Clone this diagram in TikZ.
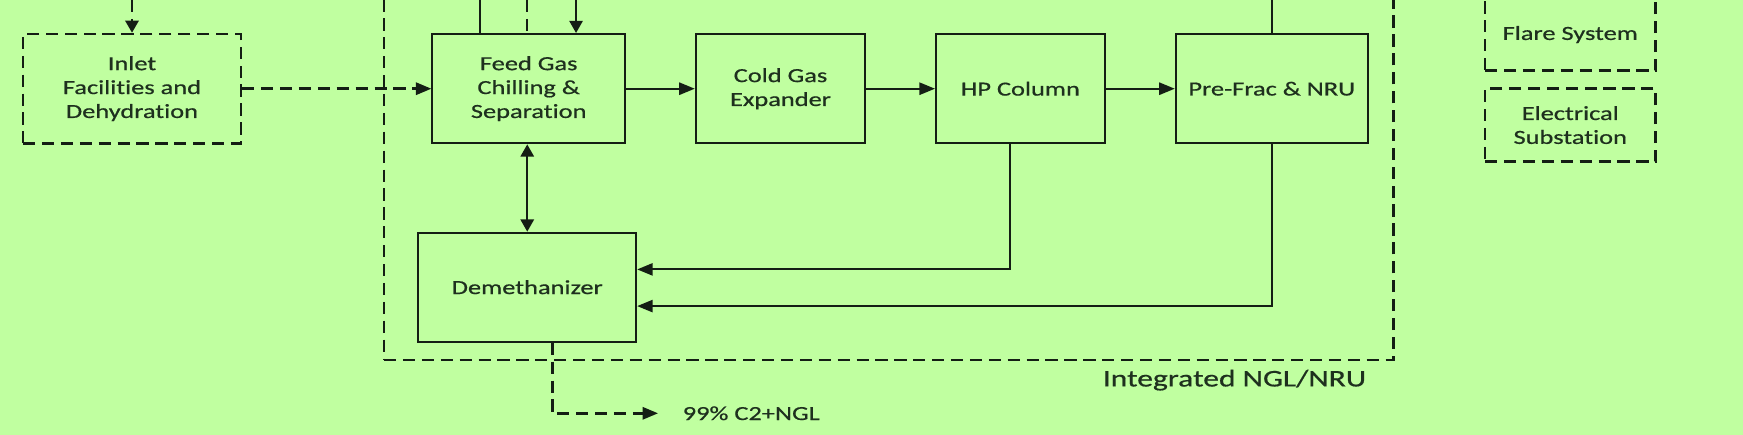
\documentclass[tikz,border=0pt]{standalone}
\usepackage{fontspec}
\setmainfont{Carlito}[FakeStretch=1.32,FakeBold=0.6,RawFeature=-liga]
\usetikzlibrary{arrows.meta}
\definecolor{bg}{RGB}{192,255,160}
\definecolor{ink}{RGB}{20,30,20}
\definecolor{txt}{RGB}{30,48,30}
\tikzset{
  blk/.style={draw=ink,line width=1.8pt,inner sep=0pt,align=center,text=txt,font=\fontsize{18}{21.5}\selectfont},
  dsh/.style={line width=2.3pt,dash pattern=on 11pt off 6pt},
  hd/.style={-{Triangle[length=14pt,width=11pt]}},
  vd/.style={-{Triangle[length=11pt,width=12pt]}},
  wire/.style={draw=ink,line width=1.8pt},
  lbl/.style={inner sep=0pt,text=txt},
}
\begin{document}
\begin{tikzpicture}[x=1pt,y=-1pt]
\fill[bg] (0,0) rectangle (1568,391);
\useasboundingbox (0,0) rectangle (1568,391);

\node[blk,dsh,minimum width=908pt,minimum height=325.2pt] (integ) at (799.5,161.3) {};
\node[blk,dsh,minimum width=196pt,minimum height=98.4pt] (inlet) at (118.75,79.8) {Inlet\\Facilities and\\Dehydration};
\node[blk,fill=bg,minimum width=173.2pt,minimum height=98.4pt] (feed) at (475.6,79.8) {Feed Gas\\Chilling \&\\Separation};
\node[blk,minimum width=152.5pt,minimum height=98.4pt] (cold) at (702.15,79.8) {Cold Gas\\Expander};
\node[blk,minimum width=151.9pt,minimum height=98.4pt] (hp) at (917.95,79.8) {HP Column};
\node[blk,minimum width=172.7pt,minimum height=98.4pt] (pre) at (1144.05,79.8) {Pre-Frac \& NRU};
\node[blk,minimum width=196pt,minimum height=98.1pt] (demeth) at (474.3,258.35) {Demethanizer};
\node[blk,dsh,minimum width=153.2pt,minimum height=65pt] (flare) at (1412.6,31.1) {Flare System};
\node[blk,dsh,minimum width=153.2pt,minimum height=66pt] (elec) at (1412.6,112.5) {Electrical\\Substation};

\node[lbl,font=\fontsize{21.5}{25}\selectfont] (ilabel) at (1110.5,342) {Integrated NGL/NRU};
\node[lbl,anchor=west,font=\fontsize{18}{21.5}\selectfont] (c2) at (614,371.8) {99\% C2+NGL};

\coordinate (inTop) at (118.75,0);
\coordinate (fA) at (431.8,0);
\coordinate (fB) at (474.1,0);
\coordinate (fC) at (518.2,0);
\coordinate (pT) at (1144.3,0);

\draw[wire,dsh,vd] (inTop) -- (inlet.north);
\draw[wire,dsh,hd] (inlet.east) -- (feed.west);
\draw[wire,hd] (feed.east) -- (cold.west);
\draw[wire,hd] (cold.east) -- (hp.west);
\draw[wire,hd] (hp.east) -- (pre.west);
\draw[wire] (fA) -- (fA |- feed.north);
\draw[wire,dsh] (fB) -- (fB |- feed.north);
\draw[wire,vd] (fC) -- (fC |- feed.north);
\draw[wire] (pT) -- (pT |- pre.north);
\draw[wire,{Triangle[length=11pt,width=12pt]}-{Triangle[length=11pt,width=12pt]}] (demeth.north) -- (demeth.north |- feed.south);
\draw[wire,hd] ([xshift=-9.5pt]hp.south) |- ([yshift=16pt]demeth.east);
\draw[wire,hd] (pre.south) |- ([yshift=-17pt]demeth.east);
\draw[wire,dsh,hd] ([xshift=22.5pt]demeth.south) |- ([xshift=-22pt]c2.west);
\end{tikzpicture}
\end{document}
